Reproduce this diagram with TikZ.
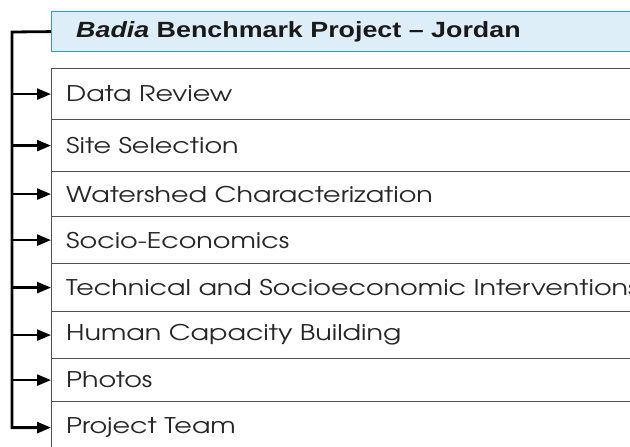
\documentclass[tikz,border=0pt]{standalone}
\usepackage{fontspec}
\setmainfont[FakeStretch=1.22]{Liberation Sans}
\newfontfamily\itemfont[FakeStretch=1.25]{TeX Gyre Adventor}
\usepackage{tikz}
\usetikzlibrary{calc,positioning,arrows.meta}
\definecolor{ttlfill}{HTML}{DDEEF8}
\definecolor{ttldraw}{HTML}{2B9BD3}
\definecolor{rowline}{HTML}{505050}

\begin{document}
\begin{tikzpicture}[x=1pt, y=-1pt,
  row/.style={draw=rowline, line width=1.2pt, rectangle, anchor=north west, minimum width=620pt, inner sep=0pt},
  itm/.style={anchor=west, inner sep=0pt, font=\itemfont\fontsize{21.6}{24}\selectfont, text=black!85},
  ttl/.style={draw=ttldraw, fill=ttlfill, line width=1.2pt, rectangle, anchor=north west, minimum width=620pt, minimum height=40pt, inner sep=0pt},
  arr/.style={line width=2.4pt, -{Triangle[length=14pt,width=11pt]}}]
\useasboundingbox (0,0) rectangle (630,447);
\clip (0,0) rectangle (630,447);
\node[ttl] (ttl) at (51,11) {};
\node[anchor=west, inner sep=0pt, font=\bfseries\fontsize{22}{24}\selectfont, text=black!90] (ttltxt) at ([xshift=25pt]ttl.west) {\textit{Badia} Benchmark Project -- Jordan};
\foreach \t/\b/\txt [count=\n] in {68/119/Data Review, 119/171/Site Selection, 171/216/Watershed Characterization, 216/263/Socio-Economics, 263/311/Technical and Socioeconomic Interventions, 311/358/Human Capacity Building, 358/401/Photos, 401/453/Project Team}{
  \node[row, minimum height={(\b-\t)*1pt}] (r\n) at (51,\t) {};
  \node[itm] (t\n) at ([xshift=15pt]r\n.west) {\txt};}
\coordinate (bus) at (12,32);
\foreach \n in {1,...,7}{\draw[arr] (bus |- r\n.west) -- (r\n.west);}
\draw[arr, line width=2.8pt] (ttl.west) -- (bus) -- (bus |- r8.west) -- (r8.west);
\end{tikzpicture}
\end{document}
